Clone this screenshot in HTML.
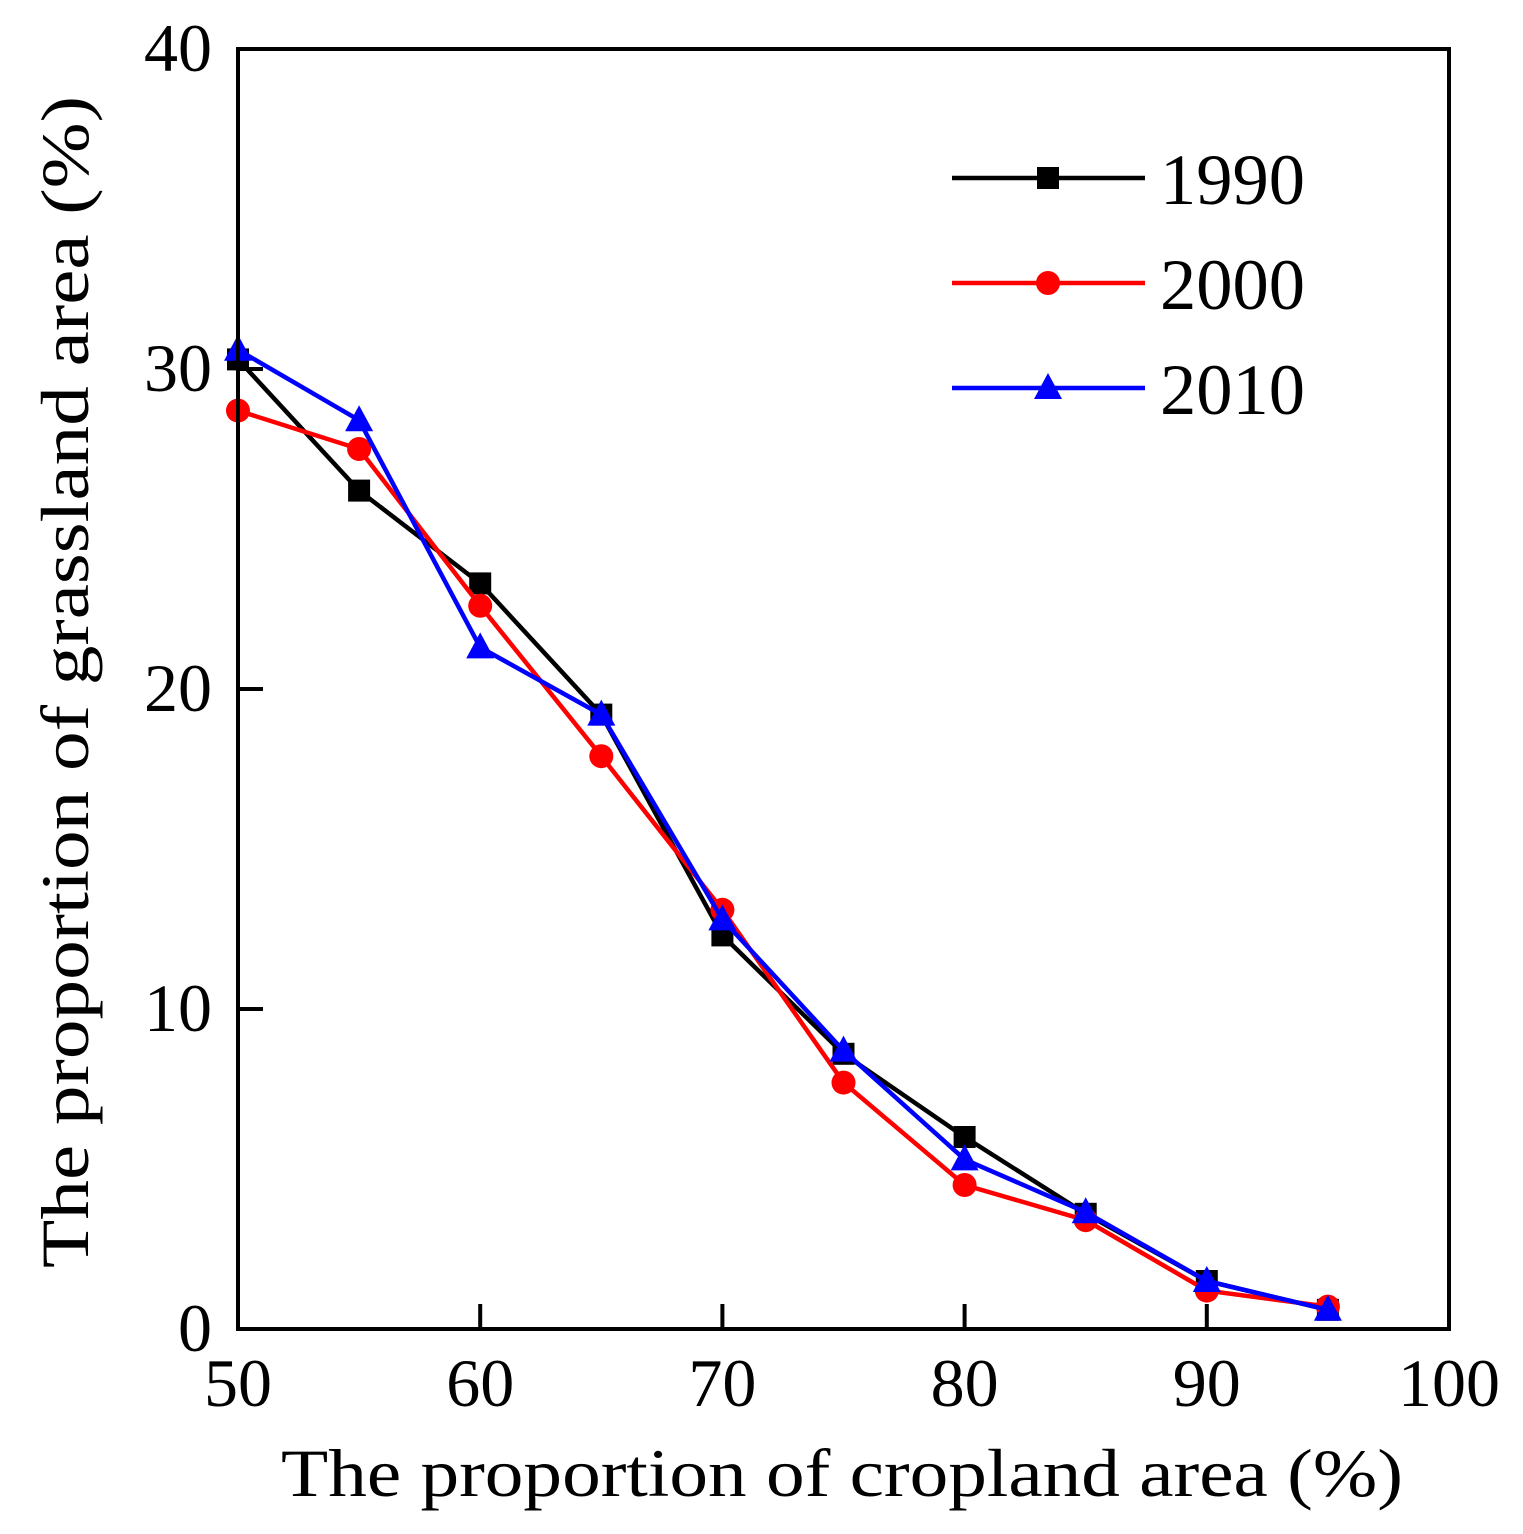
<!DOCTYPE html>
<html><head><meta charset="utf-8"><style>
html,body{margin:0;padding:0;background:#fff;}
svg{display:block;font-family:"Liberation Serif",serif;}
</style></head><body>
<svg id="chart" width="1523" height="1534" viewBox="0 0 1523 1534">
<rect x="0" y="0" width="1523" height="1534" fill="#fff"/>
<g id="series"></g>
<rect x="238" y="49" width="1211" height="1280" fill="none" stroke="#000" stroke-width="4"/>
<g id="axes"></g>
<text x="842" y="1496" font-size="68" text-anchor="middle" textLength="1122" lengthAdjust="spacingAndGlyphs">The proportion of cropland area (%)</text>
<text transform="translate(88,682) rotate(-90)" font-size="68" text-anchor="middle" textLength="1172" lengthAdjust="spacingAndGlyphs">The proportion of grassland area (%)</text>
<g id="legend"></g>
</svg>
<script>
const categories=[50,55,60,65,70,75,80,85,90,95];
const s1990=[30.3,26.2,23.3,19.2,12.3,8.6,6.0,3.6,1.5,0.6];
const s2000=[28.7,27.5,22.6,17.9,13.1,7.7,4.5,3.4,1.2,0.7];
const s2010=[30.6,28.4,21.3,19.2,12.8,8.7,5.3,3.65,1.5,0.6];
const xTicks=[50,60,70,80,90,100];
const yTicks=[0,10,20,30,40];
const seriesNames=["1990","2000","2010"];
const NS="http://www.w3.org/2000/svg";
const X=v=>238+(v-50)/50*1211;
const Y=v=>1329-v/40*1280;
function mk(t,a,p){const e=document.createElementNS(NS,t);for(const k in a)e.setAttribute(k,a[k]);p.appendChild(e);return e;}
const axes=document.getElementById('axes');
xTicks.forEach(v=>{
 if(v>50&&v<100){const l=mk('line',{x1:X(v),x2:X(v),y1:1329,y2:1304,stroke:'#000','stroke-width':4},axes);
 
 }
 const t=mk('text',{x:X(v),y:1406,'font-size':68,'text-anchor':'middle'},axes);t.textContent=v;
 
 
});
yTicks.forEach(v=>{
 if(v>0&&v<40){const l=mk('line',{x1:238,x2:263,y1:Y(v),y2:Y(v),stroke:'#000','stroke-width':4},axes);
 
 }
 const t=mk('text',{x:212,y:Y(v)+22,'font-size':68,'text-anchor':'end'},axes);t.textContent=v;
 
 
});
const colors=['#000','#f00','#00f'];
const data=[s1990,s2000,s2010];
const shapes=['square','circle','triangle'];
function marker(g,shape,x,y,c){
 let e;
 if(shape==='square')e=mk('rect',{x:x-11,y:y-11,width:22,height:22,fill:c},g);
 else if(shape==='circle')e=mk('circle',{cx:x,cy:y,r:12,fill:c},g);
 else e=mk('polygon',{points:`${x},${y-15} ${x-14},${y+11} ${x+14},${y+11}`,fill:c},g);
 return e;
}
const sg=document.getElementById('series');
data.forEach((arr,i)=>{
 const g=mk('g',{},sg);
 
 
 const pl=mk('polyline',{points:arr.map((v,j)=>X(categories[j])+','+Y(v)).join(' '),fill:'none',stroke:colors[i],'stroke-width':4.5},g);
 
 
 arr.forEach((v,j)=>{const m=marker(g,shapes[i],X(categories[j]),Y(v),colors[i]);
  
  });
});
const lg=document.getElementById('legend');
seriesNames.forEach((n,i)=>{
 const y=178+i*105;
 const g=mk('g',{},lg);
 
 
 mk('line',{x1:952,x2:1145,y1:y,y2:y,stroke:colors[i],'stroke-width':4.5},g);
 marker(g,shapes[i],1048,y,colors[i]);
 const t=mk('text',{x:1160,y:y+26,'font-size':72,textLength:145,lengthAdjust:'spacingAndGlyphs'},g);t.textContent=n;
});
</script>
</body></html>
